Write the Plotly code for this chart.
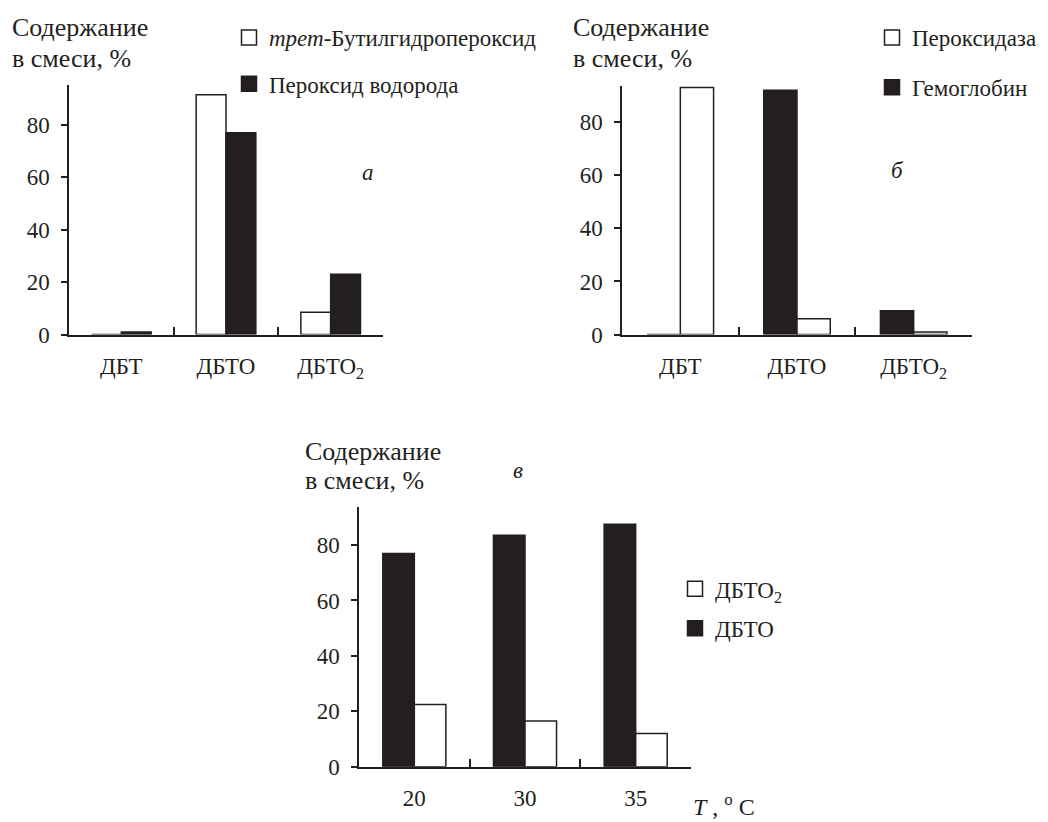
import plotly.graph_objects as go

# ---------------- data ----------------
categories = ["ДБТ", "ДБТО", "ДБТО<sub>2</sub>"]
a_tbhp = [0, 91.5, 8.5]        # трет-Бутилгидропероксид (white)
a_h2o2 = [1, 77, 23]           # Пероксид водорода (black)
b_hemoglobin = [0, 92, 9]      # Гемоглобин (black)
b_peroxidase = [93, 6, 1]      # Пероксидаза (white)
temperatures = ["20", "30", "35"]
c_dbto = [77, 83.5, 87.5]      # ДБТО (black)
c_dbto2 = [22.5, 16.5, 12]     # ДБТО2 (white)

REF_W, REF_H = 1048, 822
W, H = 1048, 834
INK = "#231f20"
FONT = "Liberation Serif"
FS = 23


def fx(px):
    return px / REF_W


def fy(py):
    return 1 - py / REF_H


fig = go.Figure()


def bar(x, y, fill, xa, ya):
    return go.Bar(x=x, y=y, xaxis=xa, yaxis=ya, showlegend=False,
                  marker=dict(color=fill, line=dict(color=INK, width=1.5)),
                  hoverinfo="x+y")


def legend_item(name, fill, lg, grp):
    return go.Scatter(x=[None], y=[None], mode="markers", name=name,
                      legend=lg, legendgroup=grp, xaxis="x", yaxis="y",
                      marker=dict(symbol="square", size=15, color=fill,
                                  line=dict(color=INK, width=1.5)))


# panel a
fig.add_trace(bar(categories, a_tbhp, "white", "x", "y"))
fig.add_trace(bar(categories, a_h2o2, INK, "x", "y"))
# panel б
fig.add_trace(bar(categories, b_hemoglobin, INK, "x2", "y2"))
fig.add_trace(bar(categories, b_peroxidase, "white", "x2", "y2"))
# panel в
fig.add_trace(bar(temperatures, c_dbto, INK, "x3", "y3"))
fig.add_trace(bar(temperatures, c_dbto2, "white", "x3", "y3"))

# legends
fig.add_trace(legend_item("<i>трет</i>-Бутилгидропероксид", "white", "legend", "a1"))
fig.add_trace(legend_item("Пероксид водорода", INK, "legend", "a2"))
fig.add_trace(legend_item("Пероксидаза", "white", "legend2", "b1"))
fig.add_trace(legend_item("Гемоглобин", INK, "legend2", "b2"))
fig.add_trace(legend_item("ДБТО<sub>2</sub>", "white", "legend3", "c1"))
fig.add_trace(legend_item("ДБТО", INK, "legend3", "c2"))

# panel geometry (px): (x_left, x_right, y_zero, y_top, top_value)
panels = {
    "": (69, 383, 335, 85.6, 95),
    "2": (622, 972, 335, 86, 93.6),
    "3": (359, 691, 767.7, 508, 93.6),
}

layout = dict(
    width=W, height=H,
    margin=dict(l=0, r=0, t=0, b=0),
    paper_bgcolor="white", plot_bgcolor="white",
    font=dict(family=FONT, size=FS, color=INK),
    barmode="group", bargap=0.43, bargroupgap=0,
    showlegend=True,
)

for k, (x0, x1, y0, y1, top) in panels.items():
    layout["xaxis" + k] = dict(
        domain=[fx(x0), fx(x1)], anchor="y" + k, type="category",
        range=[-0.5, 2.5], tickson="boundaries", ticks="inside", ticklen=8,
        tickwidth=1.5, tickcolor=INK, showline=True, linecolor=INK,
        linewidth=1.5, showgrid=False, zeroline=False,
        ticklabelstandoff=10, tickfont=dict(size=FS, family=FONT),
    )
    layout["yaxis" + k] = dict(
        domain=[fy(y0), fy(y1)], anchor="x" + k, range=[0, top],
        tickvals=[0, 20, 40, 60, 80], ticks="outside", ticklen=6,
        tickwidth=1.5, tickcolor=INK, showline=True, linecolor=INK,
        linewidth=1.5, showgrid=False, zeroline=False,
        ticklabelstandoff=7, tickfont=dict(size=FS, family=FONT),
    )


def leg(x, y, gap):
    return dict(x=fx(x), y=fy(y), xanchor="left", yanchor="top",
                bgcolor="rgba(0,0,0,0)",
                font=dict(size=FS, family=FONT, color=INK),
                tracegroupgap=gap, itemwidth=30, traceorder="grouped")


layout["legend"] = leg(229, 16, 13.5)
layout["legend2"] = leg(872, 16, 17)
layout["legend3"] = leg(675, 568, 6.5)

fig.update_layout(**layout)

# y-axis titles, one annotation per line
title_lines = ["Содержание", "в смеси, %"]
for x, ys in [(10, (28, 58.5)), (571, (28, 58.5)), (303, (452.5, 481))]:
    for line, y in zip(title_lines, ys):
        fig.add_annotation(x=fx(x), y=fy(y), xref="paper", yref="paper",
                           text=line, showarrow=False, xanchor="left",
                           yanchor="middle", align="left",
                           font=dict(size=26, family=FONT))

for x, y, t in [(368, 173, "<i>а</i>"), (897, 170.5, "<i>б</i>"), (518, 471, "<i>в</i>")]:
    fig.add_annotation(x=fx(x), y=fy(y), xref="paper", yref="paper", text=t,
                       showarrow=False, xanchor="center", yanchor="middle",
                       font=dict(size=FS, family=FONT))

fig.add_annotation(x=fx(691), y=fy(806), xref="paper", yref="paper",
                   text="<i>T</i> , <sup>o</sup> C", showarrow=False,
                   xanchor="left", yanchor="middle",
                   font=dict(size=24, family=FONT))

fig.write_html("out.html",
               config={"displayModeBar": False},
               post_script="document.body.style.margin='0px';"
                           "document.body.style.overflow='hidden';")
